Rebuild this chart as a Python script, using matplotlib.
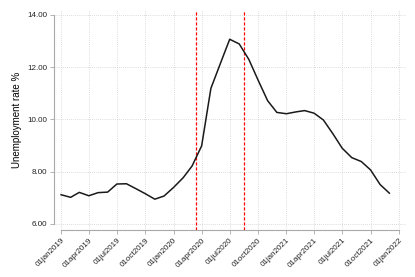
import matplotlib
matplotlib.use("Agg")
import matplotlib.pyplot as plt
import matplotlib.dates as mdates
import numpy as np
import pandas as pd

plt.rcParams["font.family"] = ["Liberation Sans", "DejaVu Sans"]

# monthly unemployment rate, Jan 2019 - Dec 2021
months = pd.date_range("2019-01-01", "2021-12-01", freq="MS")
unemp_rate = [7.12, 7.02, 7.21, 7.08, 7.20, 7.22, 7.53, 7.54, 7.35, 7.16, 6.95, 7.07,
              7.40, 7.77, 8.22, 8.99, 11.19, 12.15, 13.07, 12.89, 12.30, 11.51, 10.72, 10.27,
              10.22, 10.29, 10.34, 10.24, 9.98, 9.45, 8.90, 8.54, 8.39, 8.07, 7.51, 7.18]
event_dates = pd.to_datetime(["2020-03-13", "2020-08-16"])
tick_dates = pd.date_range("2019-01-01", "2022-01-01", freq="QS")
y_ticks = [6, 8, 10, 12, 14]

fig = plt.figure(figsize=(4.15, 2.77), dpi=100)
ax = fig.add_axes([54 / 415, 47 / 277, 352 / 415, 220 / 277])

axis_grey = "#a8a8a8"
ax.plot(months, unemp_rate, color="#1a1a1a", lw=1.1, zorder=3)
for d in event_dates:
    ax.axvline(d, color="red", lw=0.9, ls=(0, (2.5, 1.5)), zorder=2)

ax.set_xlim(pd.Timestamp("2019-01-01") - pd.Timedelta(days=23),
            pd.Timestamp("2022-01-01") + pd.Timedelta(days=23))
ax.set_ylim(5.77, 14.19)

ax.set_xticks(tick_dates)
ax.set_xticklabels([d.strftime("%d%b%Y").lower() for d in tick_dates],
                   rotation=45, ha="right", rotation_mode="anchor", fontsize=5.8)
ax.set_yticks(y_ticks)
ax.set_yticklabels([f"{v:.2f}" for v in y_ticks], fontsize=5.8)
ax.set_ylabel("Unemployment rate %", fontsize=7)

ax.grid(True, color="#d0d0d0", lw=0.6, ls=(0, (1, 1.5)))
ax.set_axisbelow(True)
for side in ["top", "right"]:
    ax.spines[side].set_visible(False)
for side in ["left", "bottom"]:
    ax.spines[side].set_color(axis_grey)
    ax.spines[side].set_linewidth(0.8)
ax.spines["left"].set_bounds(6, 14)
ax.spines["bottom"].set_bounds(mdates.date2num(tick_dates[0]), mdates.date2num(tick_dates[-1]))
ax.tick_params(axis="both", colors=axis_grey, labelcolor="#222222", length=3, width=0.6, pad=2)

fig.savefig("out.png", dpi=100)
